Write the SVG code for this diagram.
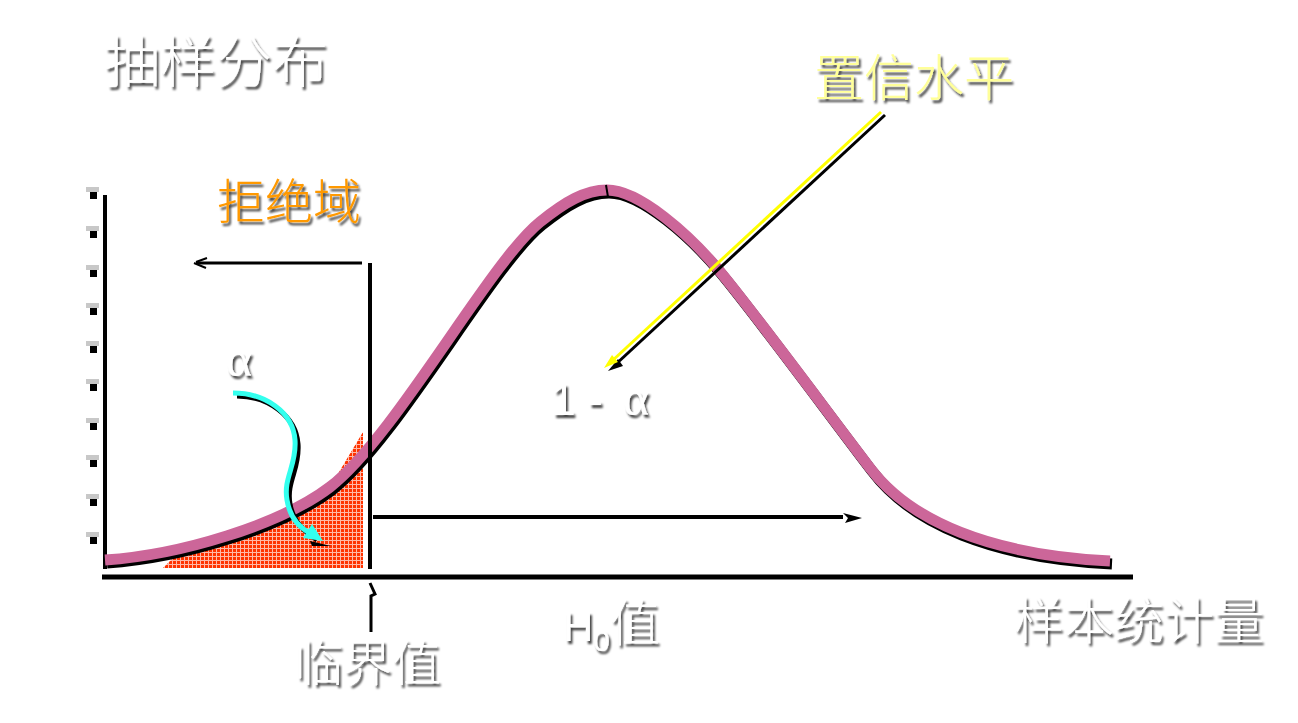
<svg xmlns="http://www.w3.org/2000/svg" width="1298" height="723" viewBox="0 0 1298 723">
<style>
.t{font-family:"Noto Sans CJK SC","Liberation Sans",sans-serif;font-weight:300;filter:url(#sh)}
.w{fill:#fff}
.curve{fill:none;stroke-width:11;stroke-linejoin:round}
</style>
<defs>
<filter id="sh" x="-10%" y="-20%" width="130%" height="150%">
<feDropShadow dx="2" dy="3" stdDeviation="1" flood-color="#000" flood-opacity="0.75"/>
</filter>
<pattern id="hatch" width="4" height="4" patternUnits="userSpaceOnUse">
<rect width="4" height="4" fill="#ff3300"/>
<rect x="0" y="0" width="4" height="1" fill="#ffb8a8"/>
<rect x="0" y="0" width="1" height="4" fill="#ffb8a8"/>
</pattern>
<path id="bell" d="M105,560 C180,555 280,525 330,487 C395,437 490,262 540,222 C565,202 585,190 607,190 C640,190 690,236 717,268 C750,307 822,405 870,468 C910,521 990,555 1110,561"/>
</defs>
<rect width="1298" height="723" fill="#fff"/>

<g id="rejection-fill">
<path d="M163,568 L363,568 L363,432 L330,487 L293,511 L270,522 L233,536 L180,551 Z" fill="url(#hatch)"/>
</g>

<g id="y-axis">
<line x1="105" y1="195" x2="105" y2="569" stroke="#000" stroke-width="4"/>
<g fill="#c8c8c8">
<rect x="86" y="187" width="13" height="5"/><rect x="86" y="226" width="13" height="5"/><rect x="86" y="265" width="13" height="5"/><rect x="86" y="303" width="13" height="5"/><rect x="86" y="341" width="13" height="5"/><rect x="86" y="379" width="13" height="5"/><rect x="86" y="418" width="13" height="5"/><rect x="86" y="455" width="13" height="5"/><rect x="86" y="494" width="13" height="5"/><rect x="86" y="532" width="13" height="5"/>
</g>
<g fill="#000">
<rect x="90" y="192" width="7" height="7"/><rect x="90" y="231" width="7" height="7"/><rect x="90" y="270" width="7" height="7"/><rect x="90" y="308" width="7" height="7"/><rect x="90" y="346" width="7" height="7"/><rect x="90" y="384" width="7" height="7"/><rect x="90" y="423" width="7" height="7"/><rect x="90" y="460" width="7" height="7"/><rect x="90" y="499" width="7" height="7"/><rect x="90" y="537" width="7" height="7"/>
</g>
</g>

<g id="curve">
<use href="#bell" class="curve" stroke="#000" transform="translate(2,3)"/>
<use href="#bell" class="curve" stroke="#cc6699"/>
<line x1="606" y1="185" x2="608" y2="197" stroke="#000" stroke-width="2"/>
</g>

<g id="connectors">
<line x1="102" y1="577" x2="1133" y2="577" stroke="#000" stroke-width="5"/>
<line x1="370" y1="263" x2="370" y2="569" stroke="#000" stroke-width="4"/>
<line x1="362" y1="263" x2="196" y2="263" stroke="#000" stroke-width="3"/>
<path d="M196,262 L207,258 M194,263 L206,268" stroke="#000" stroke-width="2" fill="none"/>
<line x1="373" y1="517" x2="843" y2="517" stroke="#000" stroke-width="4"/>
<path d="M843,513 L862,518 L845,523 L848,518 Z" fill="#000"/>
<path d="M371,632 L371,596 L375,594 L370,583" stroke="#000" stroke-width="3" fill="none"/>
<line x1="885" y1="115" x2="615" y2="365" stroke="#000" stroke-width="3"/>
<path d="M608,371 L618,359 L623,366 Z" fill="#000"/>
<line x1="881" y1="112" x2="612" y2="361" stroke="#ffff00" stroke-width="3"/>
<path d="M604,368 L612,355 L618,362 Z" fill="#ffff00"/>
<path d="M237,396 C268,396 296,416 298,444 C300,469 286,482 290,504 C293,522 305,532 317,540" stroke="#000" stroke-width="5" fill="none"/>
<path d="M310,541 L331,546 L312,546 Z" fill="#000"/>
<path d="M233,393 C265,393 293,412 295,440 C297,465 283,478 287,500 C290,518 300,528 310,533" stroke="#33ffee" stroke-width="5" fill="none"/>
<path d="M303,538 L312,524 L323,541 Z" fill="#33ffee"/>
</g>

<g id="label-sampling"><text class="t w" x="104" y="82" font-size="56">抽样分布</text></g>
<g id="label-rejection"><text class="t" x="217" y="219" font-size="48" fill="#ff9900">拒绝域</text></g>
<g id="label-confidence"><text class="t" x="814" y="96" font-size="50" fill="#ffff99">置信水平</text></g>
<g id="label-alpha"><text class="t w" x="226" y="376" font-size="50" style="font-family:'Liberation Serif',serif">α</text></g>
<g id="label-one-minus-alpha"><text class="t w" y="415" font-size="44" style="font-family:'Liberation Sans',sans-serif"><tspan x="551">1</tspan><tspan x="588">-</tspan><tspan x="623" style="font-family:'Liberation Serif',serif" font-size="50">α</tspan></text></g>
<g id="label-critical"><text class="t w" x="294" y="681" font-size="49">临界值</text></g>
<g id="label-h0"><text class="t w" x="563" y="641" font-size="42" style="font-family:'Liberation Sans','Noto Sans CJK SC',sans-serif">H<tspan font-size="30" dy="10">0</tspan><tspan dy="-10" style="font-family:'Noto Sans CJK SC',sans-serif" font-size="50">值</tspan></text></g>
<g id="label-statistic"><text class="t w" x="1014" y="639" font-size="50">样本统计量</text></g>
</svg>
